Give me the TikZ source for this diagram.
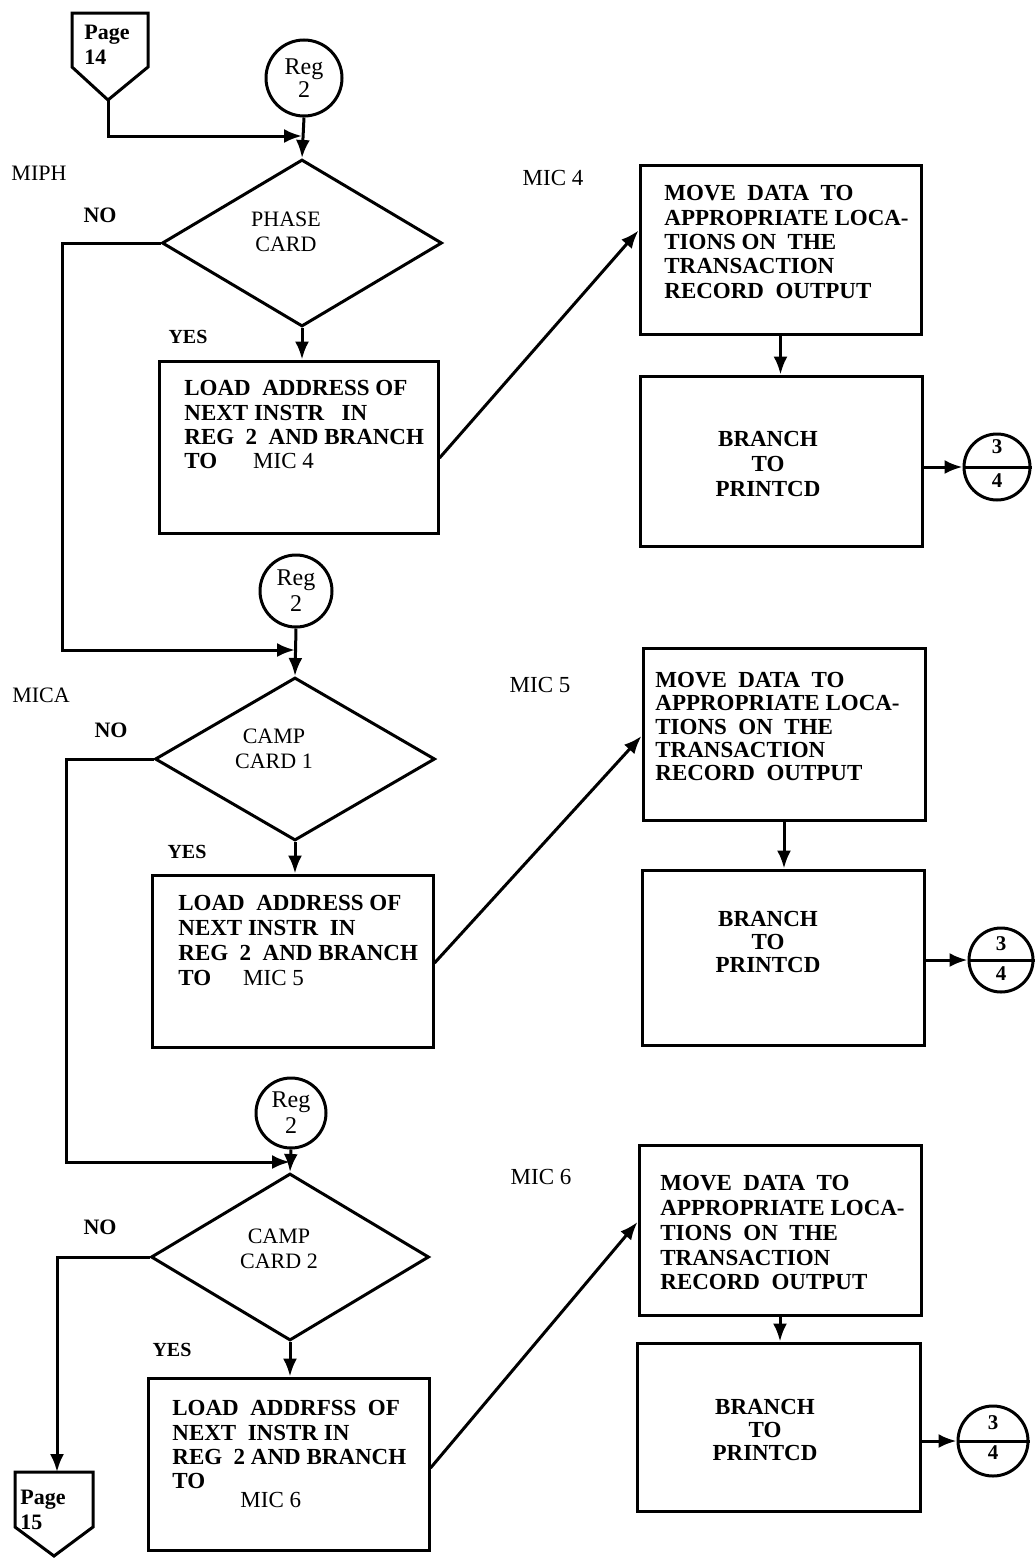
\documentclass[tikz,border=0pt]{standalone}
\usepackage{fontspec}
\setmainfont{Liberation Serif}
\usetikzlibrary{shapes.geometric,arrows.meta,calc}
\begin{document}
\begin{tikzpicture}[x=0.5pt,y=-0.5pt,
  every node/.style={inner sep=0pt},
  ln/.style={line width=1.5pt},
  arr/.style={ln,-{Latex[length=9pt,width=7pt]}},
  boxs/.style={draw,ln,rectangle},
  dia/.style={draw,ln,diamond},
  dtxt/.style={align=center,font=\fontsize{11}{12.2}\selectfont},
  regc/.style={draw,ln,circle,align=center,font=\fontsize{12}{13}\selectfont},
  conn/.style={draw,ln,circle},
  btxt/.style={anchor=north west,align=left},
  ctxt/.style={align=center},
  lbl/.style={font=\fontsize{11}{13}\selectfont},
  yn/.style={font=\fontsize{11}{13}\selectfont\bfseries},
  ys/.style={font=\fontsize{10}{12}\selectfont\bfseries},
  num/.style={font=\fontsize{10.5}{12}\selectfont\bfseries},
  pg/.style={anchor=north west,align=left,font=\fontsize{11}{12.5}\selectfont\bfseries}
]
\fill[white] (0,0) rectangle (1036,1558);
\useasboundingbox (0,0) rectangle (1036,1558);

% ---------- page 14 off-page connector ----------
\draw[ln] (72,13) -- (148,13) -- (148,67) -- (108,100) -- (72,67) -- cycle;
\coordinate (p14) at (108,100);
\node[pg] (p14t) at (84,25) {Page\\14};

% ---------- first block ----------
\node[regc,minimum size=38pt,font=\fontsize{12}{8.5}\selectfont] (r1) at (304,78) {Reg\\2};
\node[dia,minimum width=140pt,minimum height=83.5pt] (d1) at (302,243) {};
\node[dtxt] (d1t) at (286,232) {PHASE\\CARD};
\coordinate (m1) at (302,136);
\draw[arr] (r1.south) -- (d1.north);
\draw[arr] (p14) |- (m1);

\node[lbl] (miph) at (39,173) {MIPH};
\node[yn] (no1) at (100,215) {NO};
\node[ys] (yes1) at (188,337) {YES};

\node[boxs,minimum width=139.5pt,minimum height=86pt] (b1) at (298.5,447) {};
\node[btxt,font=\fontsize{11.5}{12.2}\selectfont\bfseries] (t1) at (184,380)
  {LOAD~~ADDRESS OF\\NEXT INSTR~~~IN\\REG~~2~~AND BRANCH\\TO\hspace{18pt}{\mdseries MIC 4}};
\draw[arr] (d1.south) -- (d1.south |- b1.north);

\node[lbl,font=\fontsize{11.5}{13}\selectfont] (mic4) at (553,178) {MIC 4};
\node[boxs,minimum width=140.5pt,minimum height=84.5pt] (mv1) at (780.5,249.5) {};
\node[btxt,font=\fontsize{11.5}{12.2}\selectfont\bfseries] (mt1) at (664,185)
  {MOVE~~DATA~~TO\\APPROPRIATE LOCA-\\TIONS ON~~THE\\TRANSACTION\\RECORD~~OUTPUT};
\node[boxs,minimum width=141pt,minimum height=85pt] (br1) at (781,461) {};
\node[ctxt,font=\fontsize{11.5}{12.5}\selectfont\bfseries] (bt1) at (768,464) {BRANCH\\TO\\PRINTCD};
\draw[arr] ([yshift=-5.5pt]b1.east) -- ([yshift=9.5pt]mv1.west);
\draw[arr] (mv1.south) -- (mv1.south |- br1.north);
\node[conn,minimum size=33pt] (c1) at (997,467) {};
\draw[ln] (c1.west) -- (c1.east);
\node[num] (c1a) at ([yshift=10pt]c1.center) {3};
\node[num] (c1b) at ([yshift=-7pt]c1.center) {4};
\draw[arr] (br1.east |- c1.west) -- (c1.west);

% ---------- second block ----------
\node[regc,minimum size=36pt] (r2) at (296,591) {Reg\\2};
\node[dia,minimum width=140pt,minimum height=81.5pt] (d2) at (295,759) {};
\node[dtxt] (d2t) at (274,749) {CAMP\\CARD 1};
\coordinate (m2) at (295,650);
\coordinate (k1) at (62,650);
\draw[arr] (r2.south) -- (d2.north);
\draw[arr] (d1.west) -| (k1) -- (m2);

\node[lbl] (mica) at (41,695) {MICA};
\node[yn] (no2) at (111,730) {NO};
\node[ys] (yes2) at (187,852) {YES};

\node[boxs,minimum width=140.5pt,minimum height=86pt] (b2) at (292.5,961) {};
\node[btxt,font=\fontsize{11.5}{12.5}\selectfont\bfseries] (t2) at (178,895)
  {LOAD~~ADDRESS OF\\NEXT INSTR~~IN\\REG~~2~~AND BRANCH\\TO\hspace{16pt}{\mdseries MIC 5}};
\draw[arr] (d2.south) -- (d2.south |- b2.north);

\node[lbl,font=\fontsize{11.5}{13}\selectfont] (mic5) at (540,685) {MIC 5};
\node[boxs,minimum width=141pt,minimum height=86pt] (mv2) at (784,734) {};
\node[btxt,font=\fontsize{11.5}{11.6}\selectfont\bfseries] (mt2) at (655,672)
  {MOVE~~DATA~~TO\\APPROPRIATE LOCA-\\TIONS~~ON~~THE\\TRANSACTION\\RECORD~~OUTPUT};
\node[boxs,minimum width=141pt,minimum height=87.5pt] (br2) at (783,957.5) {};
\node[ctxt,font=\fontsize{11.5}{11.5}\selectfont\bfseries] (bt2) at (768,942) {BRANCH\\TO\\PRINTCD};
\draw[arr] ([yshift=-1pt]b2.east) -- ([yshift=-1pt]mv2.west);
\draw[arr] (mv2.south) -- (mv2.south |- br2.north);
\node[conn,minimum size=32pt] (c2) at (1001,960) {};
\draw[ln] (c2.west) -- (c2.east);
\node[num] (c2a) at ([yshift=8pt]c2.center) {3};
\node[num] (c2b) at ([yshift=-7pt]c2.center) {4};
\draw[arr] (br2.east |- c2.west) -- (c2.west);

% ---------- third block ----------
\node[regc,minimum size=35pt] (r3) at (291,1113) {Reg\\2};
\node[dia,minimum width=139pt,minimum height=83.5pt] (d3) at (290,1257) {};
\node[dtxt] (d3t) at (279,1249) {CAMP\\CARD 2};
\coordinate (m3) at (290,1162);
\coordinate (k2) at (66,1162);
\draw[arr] (r3.south) -- (d3.north);
\draw[arr] (d2.west) -| (k2) -- (m3);

\node[yn] (no3) at (100,1227) {NO};
\node[ys] (yes3) at (172,1350) {YES};

\node[boxs,minimum width=140.5pt,minimum height=86pt] (b3) at (288.5,1464) {};
\node[btxt,font=\fontsize{11.5}{12.2}\selectfont\bfseries] (t3) at (172,1400)
  {LOAD~~ADDRFSS~~OF\\NEXT~~INSTR~IN\\REG~~2 AND BRANCH\\TO\\[-2.7pt]\hspace*{34pt}{\mdseries MIC 6}};
\draw[arr] (d3.south) -- (d3.south |- b3.north);

\node[lbl,font=\fontsize{11.5}{13}\selectfont] (mic6) at (541,1177) {MIC 6};
\node[boxs,minimum width=141pt,minimum height=85pt] (mv3) at (780,1230) {};
\node[btxt,font=\fontsize{11.5}{12.4}\selectfont\bfseries] (mt3) at (660,1175)
  {MOVE~~DATA~~TO\\APPROPRIATE LOCA-\\TIONS~~ON~~THE\\TRANSACTION\\RECORD~~OUTPUT};
\node[boxs,minimum width=141.5pt,minimum height=84pt] (br3) at (778.5,1427) {};
\node[ctxt,font=\fontsize{11.5}{11.4}\selectfont\bfseries] (bt3) at (765,1430) {BRANCH\\TO\\PRINTCD};
\draw[arr] ([yshift=-2pt]b3.east) -- ([yshift=4pt]mv3.west);
\draw[arr] (mv3.south) -- (mv3.south |- br3.north);
\node[conn,minimum size=35pt] (c3) at (993,1441) {};
\draw[ln] (c3.west) -- (c3.east);
\node[num] (c3a) at ([yshift=9pt]c3.center) {3};
\node[num] (c3b) at ([yshift=-6pt]c3.center) {4};
\draw[arr] (br3.east |- c3.west) -- (c3.west);

% ---------- page 15 off-page connector ----------
\draw[ln] (15,1472) -- (93,1472) -- (93,1527) -- (54,1556) -- (15,1527) -- cycle;
\coordinate (p15) at (57,1472);
\node[pg] (p15t) at (20,1490) {Page\\15};
\draw[arr] (d3.west) -| (p15);

\end{tikzpicture}
\end{document}
